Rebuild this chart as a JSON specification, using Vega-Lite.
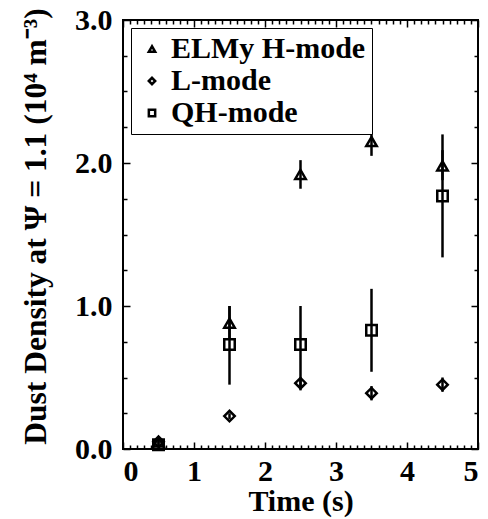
{
  "$schema": "https://vega.github.io/schema/vega-lite/v6.json",
  "autosize": "none",
  "width": 355,
  "height": 429,
  "padding": {"left": 123, "top": 20, "right": 10, "bottom": 70},
  "background": "white",
  "config": {
    "font": "Liberation Serif",
    "view": {"stroke": "black", "strokeWidth": 2},
    "axis": {
      "domain": false,
      "grid": false,
      "tickColor": "black",
      "tickWidth": 1.5,
      "labelColor": "black",
      "labelFont": "Liberation Serif",
      "labelFontWeight": "bold",
      "labelFontSize": 30,
      "titleColor": "black",
      "titleFont": "Liberation Serif",
      "titleFontWeight": "bold",
      "titleFontSize": 30
    }
  },
  "data": {
    "values": [
      {"mode": "ELMy H-mode", "t": 0.5, "n": 0.05, "lo": 0.03, "hi": 0.07},
      {"mode": "ELMy H-mode", "t": 1.5, "n": 0.88, "lo": 0.77, "hi": 1.0},
      {"mode": "ELMy H-mode", "t": 2.5, "n": 1.92, "lo": 1.82, "hi": 2.02},
      {"mode": "ELMy H-mode", "t": 3.5, "n": 2.15, "lo": 2.05, "hi": 2.26},
      {"mode": "ELMy H-mode", "t": 4.5, "n": 1.98, "lo": 1.88, "hi": 2.09},
      {"mode": "L-mode", "t": 0.5, "n": 0.05, "lo": 0.04, "hi": 0.06},
      {"mode": "L-mode", "t": 1.5, "n": 0.23, "lo": 0.21, "hi": 0.25},
      {"mode": "L-mode", "t": 2.5, "n": 0.46, "lo": 0.41, "hi": 0.5},
      {"mode": "L-mode", "t": 3.5, "n": 0.39, "lo": 0.34, "hi": 0.44},
      {"mode": "L-mode", "t": 4.5, "n": 0.45, "lo": 0.4, "hi": 0.5},
      {"mode": "QH-mode", "t": 0.5, "n": 0.03, "lo": 0.02, "hi": 0.04},
      {"mode": "QH-mode", "t": 1.5, "n": 0.73, "lo": 0.45, "hi": 1.0},
      {"mode": "QH-mode", "t": 2.5, "n": 0.73, "lo": 0.44, "hi": 1.0},
      {"mode": "QH-mode", "t": 3.5, "n": 0.83, "lo": 0.54, "hi": 1.12},
      {"mode": "QH-mode", "t": 4.5, "n": 1.77, "lo": 1.34, "hi": 2.2}
    ]
  },
  "resolve": {
    "scale": {"x": "shared", "y": "shared"},
    "axis": {"x": "independent", "y": "independent"}
  },
  "layer": [
    {
      "mark": {"type": "rule", "color": "black", "strokeWidth": 2.5},
      "encoding": {
        "x": {
          "field": "t", "type": "quantitative",
          "scale": {"domain": [0, 5], "nice": false},
          "axis": {"orient": "bottom", "values": [0, 1, 2, 3, 4, 5], "format": "d", "ticks": false,
                   "labelPadding": 7, "title": "Time (s)", "titlePadding": 0}
        },
        "y": {
          "field": "lo", "type": "quantitative",
          "scale": {"domain": [0, 3], "nice": false},
          "axis": {"orient": "left", "values": [0, 1, 2, 3], "format": ".1f", "ticks": false,
                   "labelPadding": 11, "titleFontSize": 31.5, "titleY": 206,
                   "title": "Dust Density at Ψ = 1.1 (10⁴ m⁻³)", "titlePadding": 22}
        },
        "y2": {"field": "hi"}
      }
    },
    {
      "mark": {"type": "point", "filled": false, "color": "black", "strokeWidth": 2.5, "opacity": 1},
      "encoding": {
        "x": {
          "field": "t", "type": "quantitative",
          "axis": {"orient": "bottom", "labels": false, "title": null, "offset": -7, "tickSize": 7,
                   "values": [0, 1, 2, 3, 4, 5]}
        },
        "y": {
          "field": "n", "type": "quantitative",
          "axis": {"orient": "left", "labels": false, "title": null, "offset": -7, "tickSize": 7,
                   "values": [0, 1, 2, 3]}
        },
        "shape": {
          "field": "mode", "type": "nominal",
          "scale": {"domain": ["ELMy H-mode", "L-mode", "QH-mode"], "range": ["triangle-up", "diamond", "square"]},
          "legend": {
            "orient": "none", "legendX": 8, "legendY": 8, "title": null,
            "strokeColor": "black", "fillColor": "white",
            "padding": 6, "rowPadding": 2,
            "labelFont": "Liberation Serif", "labelFontWeight": "bold", "labelFontSize": 30,
            "labelColor": "black", "labelOffset": 4, "labelLimit": 400,
            "symbolSize": 40, "symbolStrokeColor": "black", "symbolStrokeWidth": 2.5,
            "symbolFillColor": "white",
            "encode": {"legend": {"update": {"strokeWidth": {"value": 2}}}}
          }
        },
        "size": {"value": 110}
      }
    },
    {
      "mark": {"type": "point", "opacity": 0},
      "encoding": {
        "x": {"field": "t", "type": "quantitative",
              "axis": {"orient": "bottom", "labels": false, "title": null, "offset": -4, "tickSize": 4,
                       "values": [0.1,0.2,0.3,0.4,0.5,0.6,0.7,0.8,0.9,1.1,1.2,1.3,1.4,1.5,1.6,1.7,1.8,1.9,2.1,2.2,2.3,2.4,2.5,2.6,2.7,2.8,2.9,3.1,3.2,3.3,3.4,3.5,3.6,3.7,3.8,3.9,4.1,4.2,4.3,4.4,4.5,4.6,4.7,4.8,4.9]}},
        "y": {"field": "n", "type": "quantitative",
              "axis": {"orient": "left", "labels": false, "title": null, "offset": -4, "tickSize": 4,
                       "values": [0.25, 0.5, 0.75, 1.25, 1.5, 1.75, 2.25, 2.5, 2.75]}}
      }
    },
    {
      "mark": {"type": "point", "opacity": 0},
      "encoding": {
        "x": {"field": "t", "type": "quantitative",
              "axis": {"orient": "top", "labels": false, "title": null, "offset": -7, "tickSize": 7, "values": [0, 1, 2, 3, 4, 5]}},
        "y": {"field": "n", "type": "quantitative",
              "axis": {"orient": "right", "labels": false, "title": null, "offset": -7, "tickSize": 7, "values": [0, 1, 2, 3]}}
      }
    },
    {
      "mark": {"type": "point", "opacity": 0},
      "encoding": {
        "x": {"field": "t", "type": "quantitative",
              "axis": {"orient": "top", "labels": false, "title": null, "offset": -4, "tickSize": 4,
                       "values": [0.1,0.2,0.3,0.4,0.5,0.6,0.7,0.8,0.9,1.1,1.2,1.3,1.4,1.5,1.6,1.7,1.8,1.9,2.1,2.2,2.3,2.4,2.5,2.6,2.7,2.8,2.9,3.1,3.2,3.3,3.4,3.5,3.6,3.7,3.8,3.9,4.1,4.2,4.3,4.4,4.5,4.6,4.7,4.8,4.9]}},
        "y": {"field": "n", "type": "quantitative",
              "axis": {"orient": "right", "labels": false, "title": null, "offset": -4, "tickSize": 4,
                       "values": [0.25, 0.5, 0.75, 1.25, 1.5, 1.75, 2.25, 2.5, 2.75]}}
      }
    }
  ]
}
